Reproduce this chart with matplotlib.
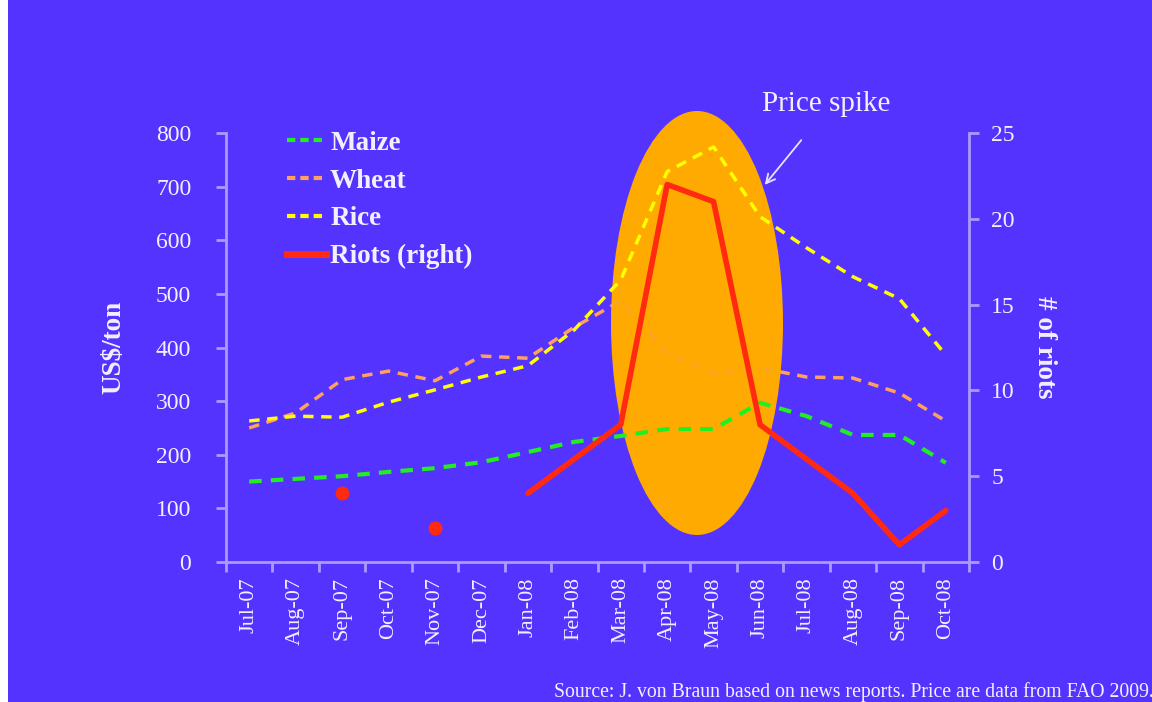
import numpy as np
import matplotlib
matplotlib.use("Agg")
import matplotlib.pyplot as plt
from matplotlib.patches import Ellipse, Rectangle
from matplotlib.lines import Line2D

months = ["Jul-07", "Aug-07", "Sep-07", "Oct-07", "Nov-07", "Dec-07", "Jan-08", "Feb-08",
          "Mar-08", "Apr-08", "May-08", "Jun-08", "Jul-08", "Aug-08", "Sep-08", "Oct-08"]
maize = [150, 155, 160, 168, 175, 186, 205, 224, 235, 248, 248, 297, 272, 237, 237, 185]
wheat = [250, 278, 340, 356, 338, 384, 380, 438, 487, 390, 352, 362, 345, 343, 315, 263]
rice = [263, 272, 270, 298, 321, 345, 366, 433, 526, 728, 774, 644, 586, 532, 491, 386]
riots = [np.nan, np.nan, 4, np.nan, 2, np.nan, 4, 6, 8, 22, 21, 8, 6, 4, 1, 3]

BG = "#5533FF"
SPINE = "#A99BFF"
TXT = "#F2F0FF"
SERIF = ["Liberation Serif", "DejaVu Serif"]

fig = plt.figure(figsize=(11.52, 7.02), dpi=100, facecolor=BG)
fig.patches.append(Rectangle((0, 0), 8 / 1152, 1, transform=fig.transFigure,
                             facecolor="white", edgecolor="none", zorder=0))

ax = fig.add_axes([226 / 1152, 1 - 562 / 702, 743 / 1152, 429 / 702])
ax.set_facecolor("none")
ax2 = ax.twinx()
ax2.set_facecolor("none")

x = np.arange(len(months))
ax.set_xlim(-0.5, len(months) - 0.5)
ax.set_ylim(0, 800)
ax2.set_ylim(0, 25)

DASH = (0, (3, 2.2))
ax.plot(x, wheat, color="#FFA060", lw=2.5, ls=DASH, zorder=2)

ell = Ellipse((697 / 1152, 1 - 323 / 702), 172 / 1152, 424 / 702,
              transform=fig.transFigure, facecolor="#FFAA00", edgecolor="none",
              zorder=3)
ax.add_artist(ell)
ell.set_clip_on(False)
faint, = ax.plot(x, wheat, color="#FFA060", lw=2.5, ls=DASH, alpha=0.35, zorder=3.5)
faint.set_clip_path(ell)

ax.plot(x, maize, color="#22EE22", lw=3, ls=DASH, zorder=4)
ax.plot(x, rice, color="#FFFF00", lw=2.5, ls=DASH, zorder=5)

r = np.array(riots, dtype=float)
ax2.plot(x, r, color="#FF2A10", lw=4, solid_capstyle="round", zorder=6)
iso = [i for i in range(len(r)) if not np.isnan(r[i])
       and (i == 0 or np.isnan(r[i - 1])) and (i == len(r) - 1 or np.isnan(r[i + 1]))]
ax2.plot(x[iso], r[iso], "o", color="#FF2A10", ms=9, ls="none", zorder=6)

for a in (ax, ax2):
    for s in a.spines.values():
        s.set_visible(False)
ax.spines["left"].set_visible(True)
ax.spines["bottom"].set_visible(True)
ax2.spines["right"].set_visible(True)
for s in (ax.spines["left"], ax.spines["bottom"], ax2.spines["right"]):
    s.set_color(SPINE)
    s.set_linewidth(2)

ax.set_yticks(range(0, 801, 100))
ax.set_yticklabels([str(v) for v in range(0, 801, 100)], fontsize=17, color=TXT, family=SERIF)
ax2.set_yticks(range(0, 26, 5))
ax2.set_yticklabels([str(v) for v in range(0, 26, 5)], fontsize=17, color=TXT, family=SERIF)
ax.set_xticks(x)
ax.set_xticklabels(months, rotation=90, fontsize=16, color=TXT, family=SERIF)
ax.set_xticks(np.arange(len(months) + 1) - 0.5, minor=True)
ax.tick_params(axis="x", which="major", length=0, pad=11)
ax.tick_params(axis="x", which="minor", length=7, width=2, color=SPINE, direction="out")
ax.tick_params(axis="y", length=7, width=2, color=SPINE, pad=18)
ax2.tick_params(axis="y", length=7, width=2, color=SPINE, pad=9)

ax.set_ylabel("US$/ton", fontsize=19.5, fontweight="bold", color=TXT, family=SERIF, va="center")
ax.yaxis.set_label_coords((114 - 226) / 743, 0.5)
ax2.set_ylabel("# of riots", fontsize=19.5, fontweight="bold", color=TXT, family=SERIF,
               rotation=270, va="center")
ax2.yaxis.set_label_coords((1045 - 226) / 743, 0.5)

handles = [Line2D([], [], color="#22EE22", lw=3, ls=(0, (2, 1.2))),
           Line2D([], [], color="#FFA060", lw=3, ls=(0, (2, 1.2))),
           Line2D([], [], color="#FFFF00", lw=3, ls=(0, (2, 1.2))),
           Line2D([], [], color="#FF2A10", lw=5)]
leg = ax.legend(handles, ["Maize", "Wheat", "Rice", "Riots (right)"],
                loc="upper left", bbox_to_anchor=(0.049, 1.062), frameon=False,
                handlelength=1.45, handletextpad=0.15, labelspacing=0.47,
                prop={"family": SERIF, "size": 19.5, "weight": "bold"})
for t in leg.get_texts():
    t.set_color(TXT)
leg.set_zorder(10)

fig.text(826 / 1152, 1 - 104 / 702, "Price spike", ha="center", va="center",
         fontsize=21, color=TXT, family=SERIF)
fig.patches.append(matplotlib.patches.FancyArrowPatch(
    (803 / 1152, 1 - 138 / 702), (763 / 1152, 1 - 187 / 702),
    transform=fig.transFigure, arrowstyle="->", mutation_scale=16,
    color="#E8E4FF", lw=1.3))

fig.text(554 / 1152, 1 - 692 / 702,
         "Source: J. von Braun based on news reports. Price are data from FAO 2009.",
         ha="left", va="center", fontsize=14.2, color=TXT, family=SERIF)

fig.savefig("out.png", dpi=100, facecolor=BG)
